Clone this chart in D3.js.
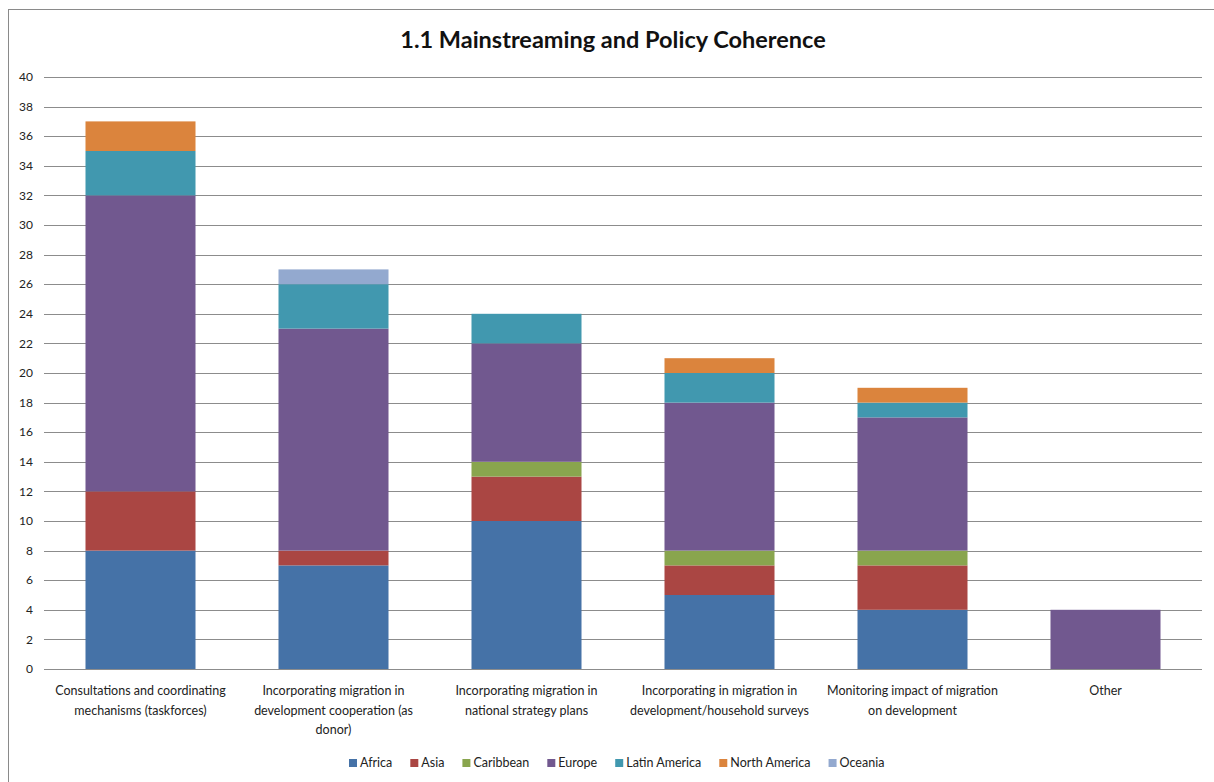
<!DOCTYPE html>
<html>
<head>
<meta charset="utf-8">
<script src="https://cdn.jsdelivr.net/npm/d3@7"></script>
<style>
  html, body { margin: 0; padding: 0; background: #fff; }
  svg { display: block; }
</style>
</head>
<body>
<svg id="chart" width="1214" height="782"></svg>
<script>
// ---- Data ----
const chartTitle = "1.1 Mainstreaming and Policy Coherence";
const categories = [
  "Consultations and coordinating\nmechanisms (taskforces)",
  "Incorporating migration in\ndevelopment cooperation (as\ndonor)",
  "Incorporating migration in\nnational strategy plans",
  "Incorporating in migration in\ndevelopment/household surveys",
  "Monitoring impact of migration\non development",
  "Other"
];
const seriesNames = ["Africa", "Asia", "Caribbean", "Europe", "Latin America", "North America", "Oceania"];
const africa       = [8, 7, 10, 5, 4, 0];
const asia         = [4, 1, 3, 2, 3, 0];
const caribbean    = [0, 0, 1, 1, 1, 0];
const europe       = [20, 15, 8, 10, 9, 4];
const latinAmerica = [3, 3, 2, 2, 1, 0];
const northAmerica = [2, 0, 0, 1, 1, 0];
const oceania      = [0, 1, 0, 0, 0, 0];
const yTicks = [0, 2, 4, 6, 8, 10, 12, 14, 16, 18, 20, 22, 24, 26, 28, 30, 32, 34, 36, 38, 40];
const colors = ["#4572A7", "#AA4643", "#89A54E", "#71588F", "#4198AF", "#DB843D", "#93A9CF"];

const seriesValues = [africa, asia, caribbean, europe, latinAmerica, northAmerica, oceania];
const rows = categories.map((c, i) => {
  const r = { cat: c };
  seriesNames.forEach((s, j) => r[s] = seriesValues[j][i]);
  return r;
});

// ---- Layout ----
const svg = d3.select("#chart");
const font = "Lato, 'Open Sans', 'Liberation Sans', sans-serif";
const plot = { left: 44, right: 1202, top: 77, bottom: 669 };

// Outer chart border
svg.append("rect")
  .attr("x", 8.5).attr("y", 9.5)
  .attr("width", 1214).attr("height", 782)
  .attr("fill", "none").attr("stroke", "#8a8a8a").attr("stroke-width", 1);

const x = d3.scaleBand().domain(categories).range([plot.left, plot.right]).paddingInner(0.43).paddingOuter(0.215);
const y = d3.scaleLinear().domain([0, 40]).range([plot.bottom, plot.top]);

// Gridlines
svg.append("g").selectAll("line").data(yTicks).join("line")
  .attr("x1", plot.left).attr("x2", plot.right)
  .attr("y1", d => Math.round(y(d)) + 0.5).attr("y2", d => Math.round(y(d)) + 0.5)
  .attr("stroke", "#8c8c8c").attr("stroke-width", 1);

// Y tick labels
svg.append("g").selectAll("text").data(yTicks).join("text")
  .attr("x", 33).attr("y", d => y(d))
  .attr("dy", "0.35em")
  .attr("text-anchor", "end")
  .attr("font-family", font).attr("font-size", 12).attr("fill", "#222")
  .text(d => d);

// Stacked bars
const stack = d3.stack().keys(seriesNames)(rows);
svg.append("g").selectAll("g").data(stack).join("g")
  .attr("fill", (d, i) => colors[i])
  .selectAll("rect").data(d => d.filter(p => p[1] - p[0] > 0)).join("rect")
  .attr("x", d => x(d.data.cat))
  .attr("width", x.bandwidth())
  .attr("y", d => y(d[1]))
  .attr("height", d => y(d[0]) - y(d[1]));

// Category labels
const catG = svg.append("g");
categories.forEach(c => {
  const lines = c.split("\n");
  const t = catG.append("text")
    .attr("x", x(c) + x.bandwidth() / 2)
    .attr("y", 695)
    .attr("text-anchor", "middle")
    .attr("font-family", font).attr("font-size", 12.5).attr("fill", "#222");
  lines.forEach((ln, i) => {
    t.append("tspan").attr("x", x(c) + x.bandwidth() / 2).attr("dy", i === 0 ? 0 : 19.5).text(ln);
  });
});

// Title
svg.append("text")
  .attr("x", 613).attr("y", 48)
  .attr("text-anchor", "middle")
  .attr("font-family", font).attr("font-weight", "bold").attr("font-size", 23.5).attr("fill", "#111")
  .text(chartTitle);

// Legend
const legG = svg.append("g");
let cursor = 0;
const gap = 18;
seriesNames.forEach((s, i) => {
  const g = legG.append("g");
  g.append("rect").attr("x", cursor).attr("y", -4).attr("width", 8).attr("height", 8).attr("fill", colors[i]);
  const t = g.append("text").attr("x", cursor + 11).attr("y", 0).attr("dy", "0.35em")
    .attr("font-family", font).attr("font-size", 12.5).attr("fill", "#222").text(s);
  const w = t.node().getComputedTextLength();
  cursor += 11 + w + gap;
});
legG.attr("transform", "translate(349,763)");
</script>
</body>
</html>
